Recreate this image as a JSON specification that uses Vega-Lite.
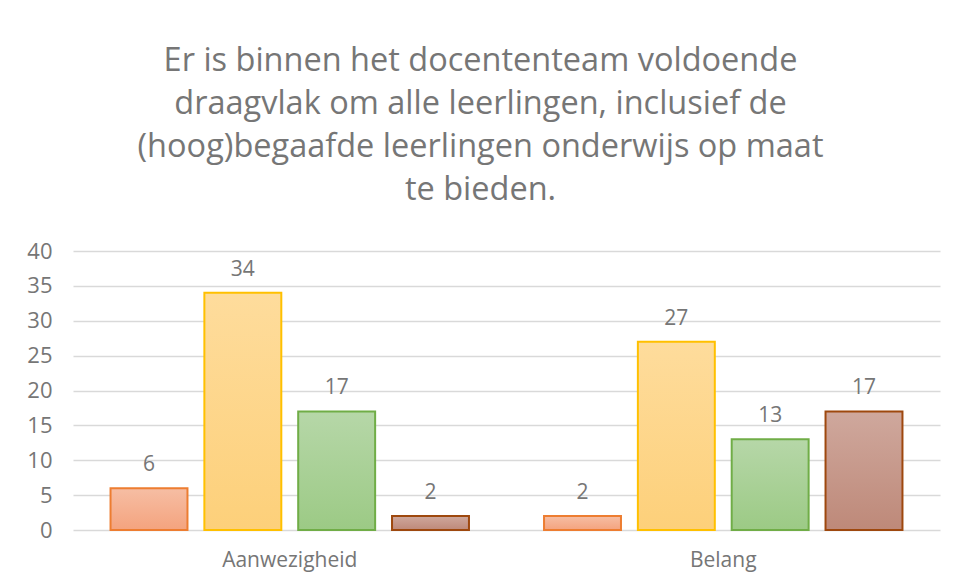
{
  "$schema": "https://vega.github.io/schema/vega-lite/v6.json",
  "width": 867,
  "height": 279,
  "autosize": {"type": "none"},
  "padding": {"left": 73, "top": 251, "right": 17, "bottom": 49},
  "background": "white",
  "title": {
    "text": ["Er is  binnen het docententeam voldoende", "draagvlak om alle leerlingen, inclusief de", "(hoog)begaafde leerlingen onderwijs op maat", "te bieden."],
    "font": "Open Sans",
    "fontSize": 32.5,
    "fontWeight": "normal",
    "color": "#767676",
    "lineHeight": 43,
    "anchor": "middle",
    "dx": -26,
    "offset": 34
  },
  "data": {
    "values": [
      {"categorie": "Aanwezigheid", "serie": "1", "aantal": 6},
      {"categorie": "Aanwezigheid", "serie": "2", "aantal": 34},
      {"categorie": "Aanwezigheid", "serie": "3", "aantal": 17},
      {"categorie": "Aanwezigheid", "serie": "4", "aantal": 2},
      {"categorie": "Belang", "serie": "1", "aantal": 2},
      {"categorie": "Belang", "serie": "2", "aantal": 27},
      {"categorie": "Belang", "serie": "3", "aantal": 13},
      {"categorie": "Belang", "serie": "4", "aantal": 17}
    ]
  },
  "encoding": {
    "x": {
      "field": "categorie", "type": "nominal", "sort": ["Aanwezigheid", "Belang"],
      "scale": {"paddingInner": 0, "paddingOuter": 0},
      "axis": {"title": null, "labelAngle": 0, "domain": false, "ticks": false, "labelFont": "Open Sans", "labelFontSize": 21, "labelColor": "#767676", "labelPadding": 19}
    },
    "xOffset": {"field": "serie", "type": "nominal", "sort": ["1", "2", "3", "4"], "scale": {"paddingInner": 0.18, "paddingOuter": 0.4}},
    "y": {
      "field": "aantal", "type": "quantitative",
      "scale": {"domain": [0, 40]},
      "axis": {"title": null, "values": [0, 5, 10, 15, 20, 25, 30, 35, 40], "domain": false, "ticks": false, "gridColor": "#D9D9D9", "gridWidth": 1.5, "labelFont": "Open Sans", "labelFontSize": 22, "labelColor": "#767676", "labelPadding": 21}
    }
  },
  "layer": [
    {
      "transform": [{"filter": "datum.serie == '1'"}],
      "mark": {"type": "bar", "stroke": "#ED7D31", "strokeWidth": 2,
        "fill": {"gradient": "linear", "x1": 0, "y1": 0, "x2": 0, "y2": 1, "stops": [{"offset": 0, "color": "#F6BEA4"}, {"offset": 1, "color": "#F4A37E"}]}}
    },
    {
      "transform": [{"filter": "datum.serie == '2'"}],
      "mark": {"type": "bar", "stroke": "#FFC000", "strokeWidth": 2,
        "fill": {"gradient": "linear", "x1": 0, "y1": 0, "x2": 0, "y2": 1, "stops": [{"offset": 0, "color": "#FEDC9C"}, {"offset": 1, "color": "#FDD07A"}]}}
    },
    {
      "transform": [{"filter": "datum.serie == '3'"}],
      "mark": {"type": "bar", "stroke": "#70AD47", "strokeWidth": 2,
        "fill": {"gradient": "linear", "x1": 0, "y1": 0, "x2": 0, "y2": 1, "stops": [{"offset": 0, "color": "#B6D7A8"}, {"offset": 1, "color": "#9CCA85"}]}}
    },
    {
      "transform": [{"filter": "datum.serie == '4'"}],
      "mark": {"type": "bar", "stroke": "#9E480E", "strokeWidth": 2,
        "fill": {"gradient": "linear", "x1": 0, "y1": 0, "x2": 0, "y2": 1, "stops": [{"offset": 0, "color": "#CFA89D"}, {"offset": 1, "color": "#BE8979"}]}}
    },
    {
      "mark": {"type": "text", "baseline": "bottom", "dy": -13, "font": "Open Sans", "fontSize": 21, "color": "#767676"},
      "encoding": {"text": {"field": "aantal", "type": "quantitative"}}
    }
  ],
  "config": {"view": {"stroke": null}}
}
